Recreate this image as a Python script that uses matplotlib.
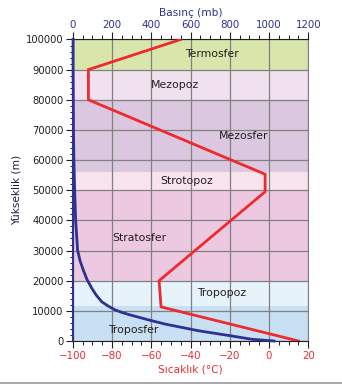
import numpy as np
import matplotlib
matplotlib.use('Agg')
import matplotlib.pyplot as plt
from matplotlib.ticker import MultipleLocator
from matplotlib.lines import Line2D

# %% data
# temperature profile (red), degC vs altitude m
temp_c = [15, -55, -56, -2, -2, -92, -92, -45]
temp_alt = [0, 11300, 20000, 49500, 55300, 80000, 90000, 100000]

# pressure profile (blue), mb vs altitude m
pres_mb = [1025, 913, 811, 640, 471, 386, 284, 245, 216, 180, 148, 120, 97, 72, 54, 38, 25, 15, 10, 6, 4, 3, 2, 2]
pres_alt = [0, 560, 1650, 3400, 5600, 7000, 8800, 9600, 10300, 11600, 13000, 15200, 17500, 20500, 23500, 26500,
            30000, 40000, 50000, 60000, 70000, 80000, 90000, 100000]

# layers: name, bottom, top, colour, label x (degC), label y (m)
layer_names = ['Troposfer', 'Tropopoz', 'Stratosfer', 'Strotopoz', 'Mezosfer', 'Mezopoz', 'Termosfer']
layer_bottom = [0, 11600, 20000, 50000, 56000, 80000, 90000]
layer_top = [11600, 20000, 50000, 56000, 80000, 90000, 100000]
layer_colors = ['#c8e0f4', '#e6f3fb', '#ecc9e0', '#f8e3ee', '#dcc7e0', '#f1e1ee', '#d8e5ab']
label_x = [-69, -24, -66, -42, -13, -48, -29]
label_y = [3500, 15800, 34200, 53000, 68000, 85000, 95200]

temp_ticks = [-100, -80, -60, -40, -20, 0, 20]
pres_ticks = [0, 200, 400, 600, 800, 1000, 1200]
alt_ticks = list(range(0, 100001, 10000))

red = '#ee2a2e'
navy = '#2e3192'
dark = '#231f20'

# %% figure
fig = plt.figure(figsize=(3.42, 3.87), dpi=100)
ax = fig.add_axes([0.2126, 0.1189, 0.6889, 0.7791])

for b, t, c in zip(layer_bottom, layer_top, layer_colors):
    ax.axhspan(b, t, color=c, lw=0, zorder=0)

ax.set_xlim(-100, 20)
ax.set_ylim(0, 100000)
ax.set_xticks(temp_ticks)
ax.set_yticks(alt_ticks)
ax.xaxis.set_minor_locator(MultipleLocator(5))
ax.yaxis.set_minor_locator(MultipleLocator(2000))
ax.grid(True, which='major', color='#808080', lw=0.9, zorder=1)
ax.set_axisbelow(True)

ax.tick_params(axis='x', which='major', colors=dark, labelcolor=red, labelsize=7.4, length=5, width=0.8, pad=2)
ax.tick_params(axis='x', which='minor', colors=dark, length=3, width=0.7)
ax.tick_params(axis='y', which='major', colors=dark, labelcolor=dark, labelsize=7.2, length=5, width=0.8, pad=1.5)
ax.tick_params(axis='y', which='minor', colors=dark, length=2.5, width=0.7)

ax.set_xlabel('Sıcaklık (°C)', color=red, fontsize=7.6, labelpad=3)
ax.set_ylabel('Yükseklik (m)', color='#1d1d3f', fontsize=7.6, labelpad=3)

ax.plot(temp_c, temp_alt, color=red, lw=2.0, zorder=4, solid_joinstyle='miter')

for name, x, y in zip(layer_names, label_x, label_y):
    ax.text(x, y, name, ha='center', va='center', fontsize=7.8, color=dark, zorder=5)

ax.spines['bottom'].set_color(dark)
ax.spines['left'].set_color(navy)
ax.spines['left'].set_linewidth(1.5)
ax.spines['right'].set_color('#808080')
ax.spines['top'].set_color(dark)

# pressure axis on top
ax2 = ax.twiny()
ax2.set_xlim(0, 1200)
ax2.set_xticks(pres_ticks)
ax2.xaxis.set_minor_locator(MultipleLocator(50))
ax2.tick_params(axis='x', which='major', colors=dark, labelcolor=navy, labelsize=7.4, length=5, width=0.8, pad=2)
ax2.tick_params(axis='x', which='minor', colors=dark, length=3, width=0.7)
ax2.set_xlabel('Basınç (mb)', color=navy, fontsize=7.6, labelpad=3)
ax2.plot(pres_mb, pres_alt, color=navy, lw=2.0, zorder=4, clip_on=False)
for s in ax2.spines.values():
    s.set_visible(False)

fig.add_artist(Line2D([0, 1], [1 - 383 / 387, 1 - 383 / 387], color='#999999', lw=1.2))

fig.savefig('out.png', dpi=100)
